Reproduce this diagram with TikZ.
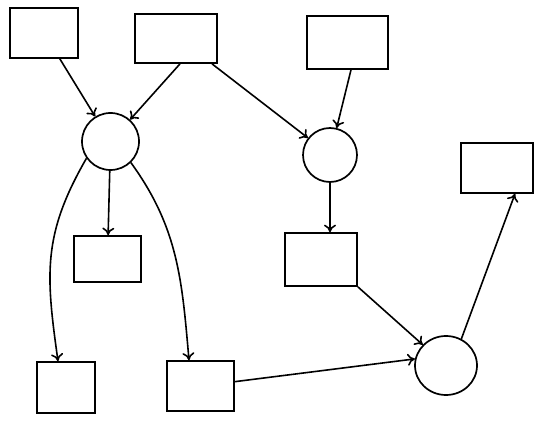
\documentclass[tikz,border=0pt]{standalone}
\usetikzlibrary{arrows.meta,shapes.geometric}

\begin{document}
\begin{tikzpicture}[
  x=1pt, y=1pt,
  >={Computer Modern Rightarrow[length=7.5pt,width=12pt]},
  box/.style={draw, line width=1.7pt, inner sep=0pt},
  hub/.style={draw, circle, line width=1.7pt, inner sep=0pt},
  edge/.style={->, line width=1.6pt}
]
\useasboundingbox (0,0) rectangle (540,426);

% Top row of boxes
\node[box, minimum width=68pt, minimum height=50pt] (topleft) at (44,393) {};
\node[box, minimum width=82pt, minimum height=49pt] (topmid) at (176,387.5) {};
\node[box, minimum width=81pt, minimum height=53pt] (topright) at (347.5,383.5) {};

% Hubs
\node[hub, minimum size=57pt] (hubleft) at (110.5,284.5) {};
\node[hub, minimum size=54pt] (hubright) at (330,271) {};
\node[draw, ellipse, line width=1.7pt, inner sep=0pt,
      minimum width=62pt, minimum height=59pt] (sink) at (446,60.5) {};

% Middle and bottom boxes
\node[box, minimum width=67pt, minimum height=46pt] (midleft) at (107.5,167) {};
\node[box, minimum width=72pt, minimum height=53pt] (midright) at (321,166.5) {};
\node[box, minimum width=58pt, minimum height=51pt] (lowleft) at (66,38.5) {};
\node[box, minimum width=67pt, minimum height=50pt] (lowmid) at (200.5,40) {};
\node[box, minimum width=72pt, minimum height=50pt] (target) at (497,258) {};

% Into the hubs
\draw[edge] (topleft) -- (hubleft);
\draw[edge] ([xshift=4pt]topmid.south) -- (hubleft);
\draw[edge] ([xshift=36pt]topmid.south) -- (hubright);
\draw[edge] ([xshift=3.5pt]topright.south) -- (hubright);

% Out of the left hub
\draw[edge] (hubleft) -- (midleft);
\draw[edge] (hubleft.215) to[out=240, in=98, looseness=1.1] ([xshift=-8pt]lowleft.north);
\draw[edge] (hubleft.-46) to[out=-54, in=95] ([xshift=-11.5pt]lowmid.north);

% Right branch
\draw[edge] (hubright.south) -- (hubright.south |- midright.north);
\draw[edge] (midright.south east) -- (sink);
\draw[edge] (lowmid) -- (sink.168);
\draw[edge] (sink.60) -- ([xshift=18pt]target.south);

\end{tikzpicture}
\end{document}
